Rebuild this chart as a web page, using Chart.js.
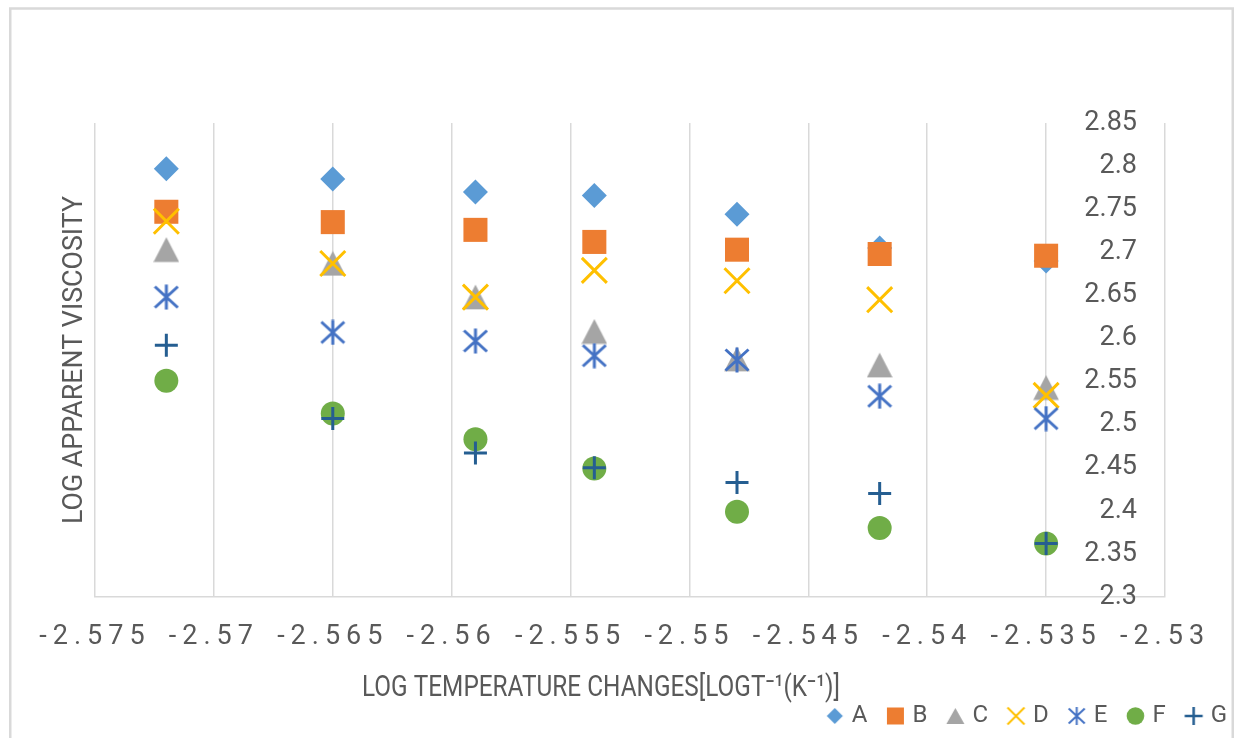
<!DOCTYPE html>
<html>
<head>
<meta charset="utf-8">
<script src="https://cdn.jsdelivr.net/npm/chart.js@4.4.1/dist/chart.umd.min.js"></script>
<style>
html,body{margin:0;padding:0;background:#fff;}
#wrap{width:1235px;height:738px;position:relative;overflow:hidden;}
canvas{display:block;}
</style>
</head>
<body>
<div id="wrap"><canvas id="c" width="1235" height="738"></canvas></div>
<script>
// ---------- data ----------
const xValues = [-2.572, -2.565, -2.559, -2.554, -2.548, -2.542, -2.535];
const seriesNames = ['A', 'B', 'C', 'D', 'E', 'F', 'G'];
const valuesA = [2.797, 2.785, 2.770, 2.766, 2.744, 2.705, 2.690];
const valuesB = [2.747, 2.735, 2.726, 2.712, 2.703, 2.698, 2.696];
const valuesC = [2.703, 2.687, 2.648, 2.608, 2.576, 2.569, 2.543];
const valuesD = [2.736, 2.687, 2.648, 2.679, 2.667, 2.645, 2.534];
const valuesE = [2.648, 2.607, 2.597, 2.580, 2.575, 2.533, 2.507];
const valuesF = [2.551, 2.513, 2.483, 2.449, 2.399, 2.380, 2.362];
const valuesG = [2.592, 2.507, 2.467, 2.450, 2.433, 2.420, 2.362];
const xTickLabels = ['-2.575', '-2.57', '-2.565', '-2.56', '-2.555', '-2.55', '-2.545', '-2.54', '-2.535', '-2.53'];
const yTickLabels = ['2.3', '2.35', '2.4', '2.45', '2.5', '2.55', '2.6', '2.65', '2.7', '2.75', '2.8', '2.85'];
const xAxisTitle = 'LOG TEMPERATURE CHANGES[LOGT\u207B\u00B9(K\u207B\u00B9)]';
const yAxisTitle = 'LOG APPARENT VISCOSITY';
const allValues = [valuesA, valuesB, valuesC, valuesD, valuesE, valuesF, valuesG];

// ---------- marker drawings ----------
function makeCanvas(w, h, fn) {
  const c = document.createElement('canvas');
  c.width = w; c.height = h;
  const g = c.getContext('2d');
  fn(g);
  return c;
}
const COL = ['#5B9BD5', '#ED7D31', '#A5A5A5', '#FFC000', '#4472C4', '#70AD47', '#255E91'];

const triMarker = makeCanvas(26, 26, g => {
  g.fillStyle = COL[2];
  g.beginPath(); g.moveTo(13, 0.5); g.lineTo(25.8, 25.3); g.lineTo(0.2, 25.3); g.closePath(); g.fill();
});
const starMarker = makeCanvas(26, 26, g => {
  g.strokeStyle = COL[4]; g.lineWidth = 3; g.lineCap = 'butt';
  g.beginPath();
  g.moveTo(13, 0.5); g.lineTo(13, 25.5);
  g.moveTo(1.5, 2.5); g.lineTo(24.5, 23.5);
  g.moveTo(24.5, 2.5); g.lineTo(1.5, 23.5);
  g.stroke();
});

// legend icons: marker centred at (cx, 10) inside a 44x20 canvas
function legendIcon(kind) {
  return makeCanvas(44, 20, g => {
    const cx = 29.5, cy = 10;
    g.fillStyle = COL[kind]; g.strokeStyle = COL[kind];
    g.beginPath();
    if (kind === 0) { g.moveTo(cx, cy - 8); g.lineTo(cx + 8, cy); g.lineTo(cx, cy + 8); g.lineTo(cx - 8, cy); g.closePath(); g.fill(); }
    if (kind === 1) { g.rect(cx - 8.5, cy - 8.5, 17, 17); g.fill(); }
    if (kind === 2) { g.moveTo(cx, cy - 8); g.lineTo(cx + 9, cy + 8); g.lineTo(cx - 9, cy + 8); g.closePath(); g.fill(); }
    if (kind === 3) { g.lineWidth = 2; g.moveTo(cx - 8.5, cy - 8.5); g.lineTo(cx + 8.5, cy + 8.5); g.moveTo(cx + 8.5, cy - 8.5); g.lineTo(cx - 8.5, cy + 8.5); g.stroke(); }
    if (kind === 4) { g.lineWidth = 2; g.moveTo(cx, cy - 9); g.lineTo(cx, cy + 9); g.moveTo(cx - 8, cy - 7.5); g.lineTo(cx + 8, cy + 7.5); g.moveTo(cx + 8, cy - 7.5); g.lineTo(cx - 8, cy + 7.5); g.stroke(); }
    if (kind === 5) { g.arc(cx, cy, 8.8, 0, Math.PI * 2); g.fill(); }
    if (kind === 6) { g.lineWidth = 2.5; g.moveTo(cx - 9, cy); g.lineTo(cx + 9, cy); g.moveTo(cx, cy - 9); g.lineTo(cx, cy + 9); g.stroke(); }
  });
}
const legendIcons = [0, 1, 2, 3, 4, 5, 6].map(legendIcon);

const markerStyles = [
  { pointStyle: 'rectRot', pointRadius: 12.5, pointBackgroundColor: COL[0], pointBorderColor: COL[0], pointBorderWidth: 0 },
  { pointStyle: 'rect', pointRadius: 17, pointBackgroundColor: COL[1], pointBorderColor: COL[1], pointBorderWidth: 0 },
  { pointStyle: triMarker, pointRadius: 13, pointBackgroundColor: COL[2], pointBorderColor: COL[2], pointBorderWidth: 0 },
  { pointStyle: 'crossRot', pointRadius: 17.7, pointBackgroundColor: 'rgba(0,0,0,0)', pointBorderColor: COL[3], pointBorderWidth: 3 },
  { pointStyle: starMarker, pointRadius: 13, pointBackgroundColor: COL[4], pointBorderColor: COL[4], pointBorderWidth: 0 },
  { pointStyle: 'circle', pointRadius: 12, pointBackgroundColor: COL[5], pointBorderColor: COL[5], pointBorderWidth: 0 },
  { pointStyle: 'cross', pointRadius: 11.5, pointBackgroundColor: 'rgba(0,0,0,0)', pointBorderColor: COL[6], pointBorderWidth: 3 }
];

const datasets = seriesNames.map((name, i) => Object.assign({
  label: name,
  data: xValues.map((x, j) => ({ x: x, y: allValues[i][j] })),
  showLine: false,
  order: seriesNames.length - 1 - i
}, markerStyles[i], { pointHoverRadius: markerStyles[i].pointRadius }));

// ---------- plugins ----------
const decor = {
  id: 'decor',
  beforeDraw(chart) {
    const ctx = chart.ctx;
    ctx.save();
    ctx.fillStyle = '#ffffff';
    ctx.fillRect(0, 0, chart.width, chart.height);
    ctx.strokeStyle = '#d9d9d9';
    ctx.lineWidth = 2.5;
    ctx.strokeRect(10.25, 8.5, 1222.5, 780);
    ctx.restore();
    const sc = chart.scales.x;
    if (sc && !sc._spacedLabels) {
      const orig = sc.drawLabels;
      sc.drawLabels = function (area) {
        const c = this.ctx;
        c.save();
        c.letterSpacing = '6px';
        orig.call(this, area);
        c.restore();
      };
      sc._spacedLabels = true;
    }
  },
  afterDraw(chart) {
    const ctx = chart.ctx;
    const a = chart.chartArea;
    // x axis title
    ctx.save();
    ctx.fillStyle = '#595959';
    ctx.font = '30px Roboto, "Noto Sans", sans-serif';
    ctx.textAlign = 'center';
    ctx.textBaseline = 'alphabetic';
    let w = ctx.measureText(xAxisTitle).width;
    ctx.translate(601, a.bottom + 99);
    ctx.scale(478 / w, 1);
    ctx.fillText(xAxisTitle, 0, 0);
    ctx.restore();
    // y axis title
    ctx.save();
    ctx.fillStyle = '#595959';
    ctx.font = '28px Roboto, "Noto Sans", sans-serif';
    ctx.textAlign = 'center';
    ctx.textBaseline = 'alphabetic';
    w = ctx.measureText(yAxisTitle).width;
    ctx.translate(82, (a.top + a.bottom) / 2);
    ctx.rotate(-Math.PI / 2);
    ctx.scale(328 / w, 1);
    ctx.fillText(yAxisTitle, 0, 0);
    ctx.restore();
  }
};

function build() {
  new Chart(document.getElementById('c'), {
    type: 'scatter',
    data: { datasets: datasets },
    options: {
      responsive: false,
      animation: false,
      events: [],
      layout: { padding: { top: 123, left: 95, right: 0, bottom: 0 } },
      scales: {
        x: {
          type: 'linear',
          position: 'bottom',
          min: -2.575,
          max: -2.53,
          afterBuildTicks: s => { s.ticks = xTickLabels.map(t => ({ value: parseFloat(t) })); },
          afterFit: s => { s.height = 99; },
          grid: { color: '#d9d9d9', lineWidth: 1.5, drawTicks: false },
          border: { color: '#d9d9d9', width: 1.5 },
          ticks: {
            padding: 24,
            maxRotation: 0,
            autoSkip: false,
            color: '#595959',
            font: { family: 'Roboto', size: 27 },
            callback: (v, i) => xTickLabels[i]
          }
        },
        y: {
          type: 'linear',
          position: 'right',
          min: 2.3,
          max: 2.85,
          afterBuildTicks: s => { s.ticks = yTickLabels.map(t => ({ value: parseFloat(t) })); },
          afterFit: s => { s.width = 70; },
          grid: { display: false, drawTicks: false },
          border: { display: false },
          ticks: {
            mirror: true,
            padding: -28,
            color: '#595959',
            font: { family: 'Roboto', size: 27 },
            callback: (v, i) => yTickLabels[i]
          }
        }
      },
      plugins: {
        tooltip: { enabled: false },
        legend: {
          position: 'bottom',
          align: 'end',
          labels: {
            usePointStyle: true,
            pointStyleWidth: 25,
            padding: 8,
            color: '#595959',
            font: { family: 'Roboto', size: 24 },
            generateLabels: chart => {
              const items = Chart.defaults.plugins.legend.labels.generateLabels(chart);
              items.sort((p, q) => p.datasetIndex - q.datasetIndex);
              items.forEach(it => { it.pointStyle = legendIcons[it.datasetIndex]; it.rotation = 0; });
              return items;
            }
          }
        }
      }
    },
    plugins: [decor]
  });
}

if (document.fonts && document.fonts.load) {
  Promise.all([document.fonts.load('27px Roboto'), document.fonts.load('30px Roboto')]).then(build, build);
} else {
  build();
}
</script>
</body>
</html>
